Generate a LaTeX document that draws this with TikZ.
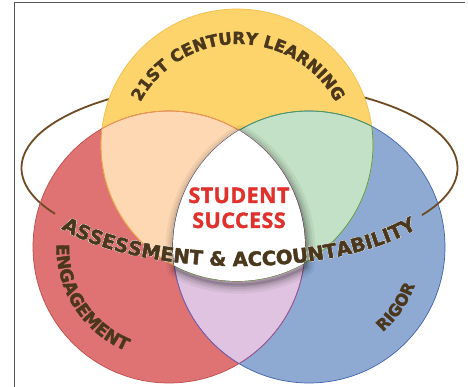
\documentclass[tikz,border=0pt]{standalone}
\usepackage{fontspec}
\usetikzlibrary{decorations.text}
\newfontfamily\heavyfont{DejaVu Sans}[UprightFont={* Bold}, FakeBold=2.2]
\newfontfamily\titlefont{Open Sans}[UprightFont={* Bold}, LetterSpace=2.0, FakeBold=1.5]
\definecolor{cyel}{HTML}{FDD46C}
\definecolor{cyeledge}{HTML}{F2BE4C}
\definecolor{cred}{HTML}{DF7374}
\definecolor{crededge}{HTML}{BF4D4B}
\definecolor{cblue}{HTML}{8EAAD3}
\definecolor{cblueedge}{HTML}{4062AE}
\definecolor{cpeach}{HTML}{FDD8B3}
\definecolor{cpeachedge}{HTML}{F0A04C}
\definecolor{cgreen}{HTML}{C3E1C6}
\definecolor{cgreenedge}{HTML}{45A055}
\definecolor{cpurple}{HTML}{DFC3E0}
\definecolor{cpurpleedge}{HTML}{8A5AA6}
\definecolor{cring}{HTML}{6E4B23}
\definecolor{ctext}{HTML}{4A371C}
\definecolor{cstu}{HTML}{E0312D}
\definecolor{cframe}{HTML}{555555}
\tikzset{
  edge/.style={line width=0.7pt},
  ringline/.style={draw=cring, line width=1.8pt},
  stutext/.style={text=cstu, font=\titlefont\fontsize{21.5}{25}\selectfont, inner sep=0pt},
}
\begin{document}
\begin{tikzpicture}[x=1pt,y=1pt]
\useasboundingbox (0,0) rectangle (468,-387);
\fill[white] (0,0) rectangle (468,-387);
\coordinate (Y) at (237,-145);
\coordinate (R) at (169,-247);
\coordinate (B) at (309,-247);
\coordinate (Ytext) at (238,-155);
\coordinate (RingC) at (239.5,-168);
\coordinate (AccC) at (239,-186);
% frame
\coordinate (F1) at (465,-3);
\coordinate (F2) at (14,-3);
\coordinate (F3) at (14,-387);
\draw[cframe, line width=1pt] (F1) -- (F2) -- (F3);
% red and blue circles
\fill[cred] (R) circle[radius=136];
\fill[cblue] (B) circle[radius=136];
% ring (back part)
\draw[ringline] (RingC) ++(-33.2:218 and 86) arc[start angle=-33.2, end angle=212.2, x radius=218, y radius=86];
% yellow circle
\fill[cyel] (Y) circle[radius=136];
% lenses
\begin{scope}
  \clip (Y) circle[radius=136];
  \fill[cpeach] (R) circle[radius=136];
  \fill[cgreen] (B) circle[radius=136];
\end{scope}
\begin{scope}
  \clip (R) circle[radius=136];
  \fill[cpurple] (B) circle[radius=136];
\end{scope}
% outlines
\draw[edge, cyeledge] (Y) circle[radius=136];
\draw[edge, crededge] (R) circle[radius=136];
\draw[edge, cblueedge] (B) circle[radius=136];
\begin{scope}
  \clip (Y) circle[radius=136];
  \draw[edge, cpeachedge] (R) circle[radius=136];
  \draw[edge, cgreenedge] (B) circle[radius=136];
\end{scope}
\begin{scope}
  \clip (R) circle[radius=136];
  \draw[edge, cpeachedge] (Y) circle[radius=136];
  \draw[edge, cpurpleedge] (B) circle[radius=136];
\end{scope}
\begin{scope}
  \clip (B) circle[radius=136];
  \draw[edge, cgreenedge] (Y) circle[radius=136];
  \draw[edge, cpurpleedge] (R) circle[radius=136];
\end{scope}
% shadow of centre
\begin{scope}[shift={(1.5,-3.5)}]
  \foreach \w/\o in {18/0.05, 13/0.06, 9/0.08, 5/0.1, 2/0.12} {
    \draw[black, opacity=\o, line width=\w pt, line join=round]
      (239,-130.4) arc[start angle=121, end angle=187.9, radius=136]
      arc[start angle=242.55, end angle=299.5, radius=136]
      arc[start angle=-6.9, end angle=59, radius=136] -- cycle;
  }
\end{scope}
% centre
\fill[white] (239,-130.4) arc[start angle=121, end angle=187.9, radius=136]
  arc[start angle=242.55, end angle=299.5, radius=136]
  arc[start angle=-6.9, end angle=59, radius=136] -- cycle;
% STUDENT SUCCESS
\node[stutext, anchor=base] (stu) at (239,-203) {STUDENT};
\node[stutext, anchor=base] (suc) at (239,-228) {SUCCESS};
% 21ST CENTURY LEARNING
\path[decorate, decoration={text along path, text align=center, text color=ctext,
  text={|\heavyfont\fontsize{16.5}{16.5}\selectfont|21ST CENTURY LEARNING}}]
  (Ytext) ++(160:111) arc[start angle=160, end angle=20, radius=111];
% ENGAGEMENT
\path[decorate, decoration={text along path, text align=center, text color=ctext,
  text={|\heavyfont\fontsize{17.3}{17.3}\selectfont|ENGAGEMENT}}]
  (R) ++(160:112.5) arc[start angle=160, end angle=266, radius=112.5];
% RIGOR
\path[decorate, decoration={text along path, text align=center, text color=ctext,
  text={|\heavyfont\fontsize{16}{16}\selectfont|RIGOR}}]
  (B) ++(-70:112.5) arc[start angle=-70, end angle=1, radius=112.5];
% ASSESSMENT & ACCOUNTABILITY halo
\foreach \dx/\dy in {1.7/0, -1.7/0, 0/1.7, 0/-1.7, 1.2/1.2, -1.2/1.2, 1.2/-1.2, -1.2/-1.2} {
  \path[shift={(\dx,\dy)}, decorate, decoration={text along path, text align=center, text color=white,
    text={|\heavyfont\fontsize{19.5}{19.5}\selectfont|ASSESSMENT {\&} ACCOUNTABILITY}}]
    (AccC) ++(200:210 and 80) arc[start angle=200, end angle=340, x radius=210, y radius=80];
}
\path[decorate, decoration={text along path, text align=center, text color=ctext,
  text={|\heavyfont\fontsize{19.5}{19.5}\selectfont|ASSESSMENT {\&} ACCOUNTABILITY}}]
  (AccC) ++(200:210 and 80) arc[start angle=200, end angle=340, x radius=210, y radius=80];
\end{tikzpicture}
\end{document}
